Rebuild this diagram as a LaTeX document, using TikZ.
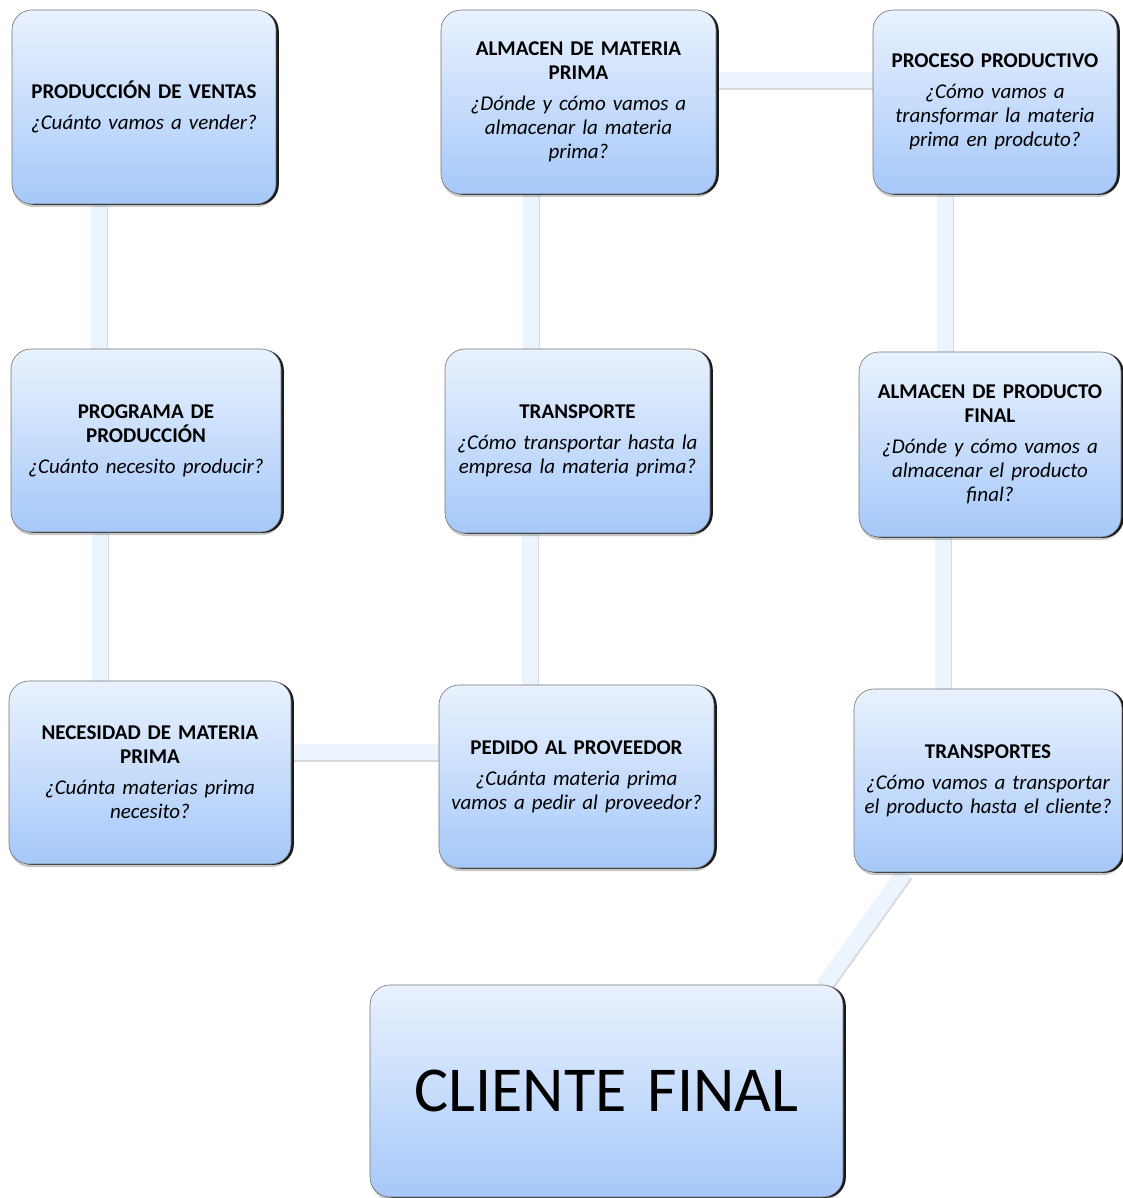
\documentclass[tikz,border=0pt]{standalone}
\usepackage{fontspec}
\setmainfont{Carlito}
\usetikzlibrary{shadows,backgrounds}
\definecolor{boxtop}{RGB}{233,242,254}
\definecolor{boxbot}{RGB}{166,200,249}
\definecolor{cbar}{RGB}{236,244,254}
\tikzset{
  bx/.style n args={3}{rounded corners=20pt, draw=black!55, line width=0.6pt,
    top color=boxtop, bottom color=boxbot,
    drop shadow={shadow xshift=1pt, shadow yshift=-3pt, fill=black, opacity=0.22},
    general shadow={fill=black!90, shadow xshift=2.8pt, shadow yshift=-0.8pt},
    inner xsep=0pt, inner ysep=0pt, text width=#1, minimum height=#2, align=center,
    font=\fontsize{21}{24}\selectfont, text=black},
  conn/.style={line width=16pt, color=cbar,
    preaction={draw=black, opacity=0.15, line width=16pt, transform canvas={xshift=1pt,yshift=-2pt}}}
}
\newcommand{\bq}[2]{{\bfseries #1}\\[7pt]{\itshape #2}}
\begin{document}
\begin{tikzpicture}[x=1pt,y=-1pt]
\useasboundingbox (0,0) rectangle (1123,1198);
\node[bx={264pt}{194pt}{}] (n1) at (144,107) {\bq{PRODUCCIÓN DE VENTAS}{¿Cuánto vamos a vender?}};
\node[bx={275pt}{184pt}{}] (n2) at (578.5,102) {\bq{ALMACEN DE MATERIA\\PRIMA}{¿Dónde y cómo vamos a\\almacenar la materia\\prima?}};
\node[bx={244pt}{184pt}{}] (n3) at (995,102) {\bq{PROCESO PRODUCTIVO}{¿Cómo vamos a\\transformar la materia\\prima en prodcuto?}};
\node[bx={270pt}{183pt}{}] (n4) at (146,440.5) {\bq{PROGRAMA DE\\PRODUCCIÓN}{¿Cuánto necesito producir?}};
\node[bx={265pt}{184pt}{}] (n5) at (577.5,441) {\bq{TRANSPORTE}{¿Cómo transportar hasta la\\empresa la materia prima?}};
\node[bx={262pt}{185pt}{}] (n6) at (990,444.5) {\bq{ALMACEN DE PRODUCTO\\FINAL}{¿Dónde y cómo vamos a\\almacenar el producto\\final?}};
\node[bx={282pt}{183pt}{}] (n7) at (150,772.5) {\bq{NECESIDAD DE MATERIA\\PRIMA}{¿Cuánta materias prima\\necesito?}};
\node[bx={275pt}{183pt}{}] (n8) at (576.5,776.5) {\bq{PEDIDO AL PROVEEDOR}{¿Cuánta materia prima\\vamos a pedir al proveedor?}};
\node[bx={268pt}{183pt}{}] (n9) at (988,780.5) {\bq{TRANSPORTES}{¿Cómo vamos a transportar\\el producto hasta el cliente?}};
\node[bx={473pt}{212pt}{}, font=\fontsize{64}{70}\selectfont] (n10) at (606.5,1091) {CLIENTE FINAL};
\begin{scope}[on background layer]
\draw[conn] ([xshift=87pt]n1.south west) -- ([xshift=88pt]n4.north west);
\draw[conn] ([xshift=90pt]n2.south west) -- ([xshift=86pt]n5.north west);
\draw[conn] ([xshift=72pt]n3.south west) -- ([xshift=86pt]n6.north west);
\draw[conn] ([xshift=89pt]n4.south west) -- ([xshift=91pt]n7.north west);
\draw[conn] ([xshift=85pt]n5.south west) -- ([xshift=91pt]n8.north west);
\draw[conn] ([xshift=84pt]n6.south west) -- ([xshift=89pt]n9.north west);
\draw[conn] ([yshift=-70pt]n2.north east) -- ([yshift=-70pt]n3.north west);
\draw[conn] ([yshift=-71pt]n7.north east) -- ([yshift=-67pt]n8.north west);
\draw[conn] ([xshift=51pt]n9.south west) -- ([xshift=-19pt]n10.north east);
\end{scope}
\end{tikzpicture}
\end{document}
